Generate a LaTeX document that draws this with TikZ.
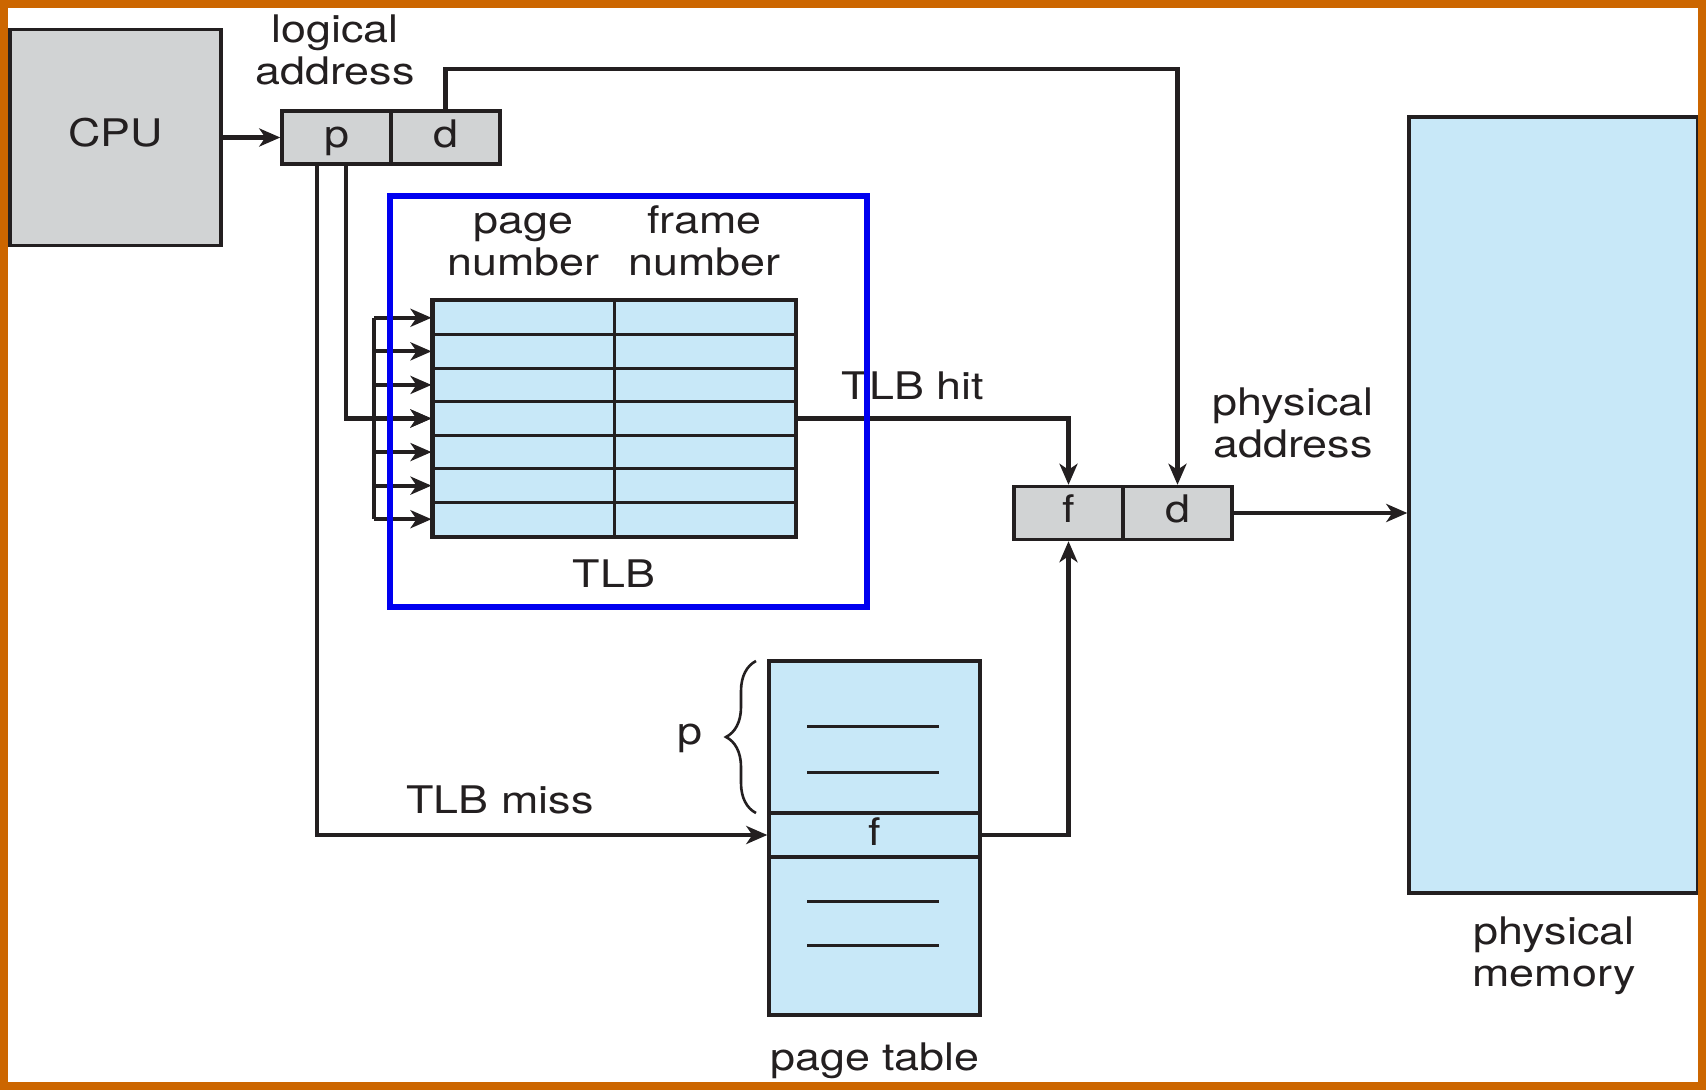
\documentclass[tikz,border=0pt]{standalone}
\usepackage{fontspec}
\setmainfont{TeX Gyre Heros}[FakeStretch=1.18]
\usetikzlibrary{arrows.meta,calc,positioning,decorations.pathreplacing}
\definecolor{inkline}{HTML}{231F20}
\definecolor{cellgray}{HTML}{D1D3D4}
\definecolor{cellblue}{HTML}{C8E8F8}
\definecolor{tlbblue}{HTML}{0000F0}
\definecolor{frameorange}{HTML}{CC6600}

\begin{document}
\begin{tikzpicture}[x=0.5pt,y=-0.5pt,>={Stealth[length=10.5pt,width=9pt,inset=3pt]},
  color=inkline,
  every node/.style={font=\fontsize{19}{21}\selectfont},
  wire/.style={line width=2.1pt},
  regcell/.style={draw,line width=1.7pt,fill=cellgray,minimum width=54.5pt,minimum height=26.5pt,
    inner sep=0pt,text height=13pt,text depth=3pt},
  tlbcell/.style={draw,line width=1.5pt,fill=cellblue,minimum width=90.5pt,minimum height=16.8pt,inner sep=0pt},
  ptcell/.style={draw,line width=1.7pt,fill=cellblue,minimum width=105.5pt,inner sep=0pt,
    text height=13pt,text depth=3pt},
  lbl/.style={align=center,anchor=north,inner sep=0pt}]
\useasboundingbox (0,0) rectangle (1706,1090);
\fill[white] (0,0) rectangle (1706,1090);

% cpu and logical address
\node[draw,line width=1.7pt,fill=cellgray,minimum width=105.5pt,minimum height=108pt,
  text height=13.6pt,text depth=5pt] (cpu) at (115.5,137.5) {CPU};
\node[regcell] (pl) at (336.5,137.5) {p};
\node[regcell] (dl) at (445.5,137.5) {d};
\node[lbl] (lalbl) at (335,13) {\strut logical\\address};

% TLB
\foreach \i in {1,...,7}{
  \pgfmathsetmacro\yy{301+33.57*(\i-0.5)}
  \node[tlbcell] (pn-\i) at (523.5,\yy) {};
  \node[tlbcell] (fn-\i) at (704.5,\yy) {};
  \coordinate (bus-\i) at (374,\yy);
}
\draw[line width=1.7pt] (pn-1.north west) rectangle (fn-7.south east);
\node[lbl] (pnlbl) at (523.5,204) {\strut page\\number};
\node[lbl] (fnlbl) at (704.5,204) {\strut frame\\number};
\node[anchor=base] (tlblbl) at (614,587) {TLB};

% page table
\node[ptcell,minimum height=76pt] (ptop) at (874.5,737) {};
\node[ptcell,minimum height=22pt] (pf) at (874.5,835) {f};
\node[ptcell,minimum height=79pt] (pbot) at (874.5,936) {};
\foreach \yy in {726,772,901,945}
  \draw[line width=1.5pt] (807,\yy) -- (939,\yy);
\draw[decorate,decoration={brace,amplitude=15pt},line width=1.3pt] (756,813) -- (756,661);
\node[anchor=base] (plbl) at (690,744) {p};
\node[anchor=base] (ptlbl) at (875,1070) {page table};

% physical address and memory
\node[regcell] (fp) at (1068.5,513) {f};
\node[regcell] (dp) at (1177.5,513) {d};
\node[lbl] (palbl) at (1293,386) {\strut physical\\address};
\node[draw,line width=1.7pt,fill=cellblue,minimum width=144.5pt,minimum height=388pt] (mem) at (1553.5,505) {};
\node[lbl] (pmlbl) at (1554,915) {\strut physical\\memory};

% connectors
\coordinate (pmiss) at ($(pl.south)+(-19.5,0)$);
\coordinate (phit) at ($(pl.south)+(9.5,0)$);
\draw[wire,->] (cpu) -- (pl);
\draw[wire,->] (dl.north) -- ++(0,-40) -| (dp.north);
\draw[wire] (bus-1) -- (bus-7);
\foreach \i in {1,...,7}
  \draw[wire,->] (bus-\i) -- (pn-\i.west);
\draw[wire,->] (phit) |- (pn-4.west);
\draw[wire,->] (fn-4.east) -| (fp.north);
\draw[wire,->] (pmiss) |- (pf.west);
\draw[wire,->] (pf.east) -| (fp.south);
\draw[wire,->] (dp.east) -- (dp.east -| mem.west);
\node[anchor=base] (hitlbl) at (913,400) {TLB hit};
\node[anchor=base] (misslbl) at (500,813) {TLB miss};

% TLB frame and border
\node[draw=tlbblue,line width=3.3pt,minimum width=238.5pt,minimum height=205.5pt] (tlb) at (628.5,401.5) {};
\draw[frameorange,line width=4pt] (4,4) rectangle (1702,1086);
\end{tikzpicture}
\end{document}
